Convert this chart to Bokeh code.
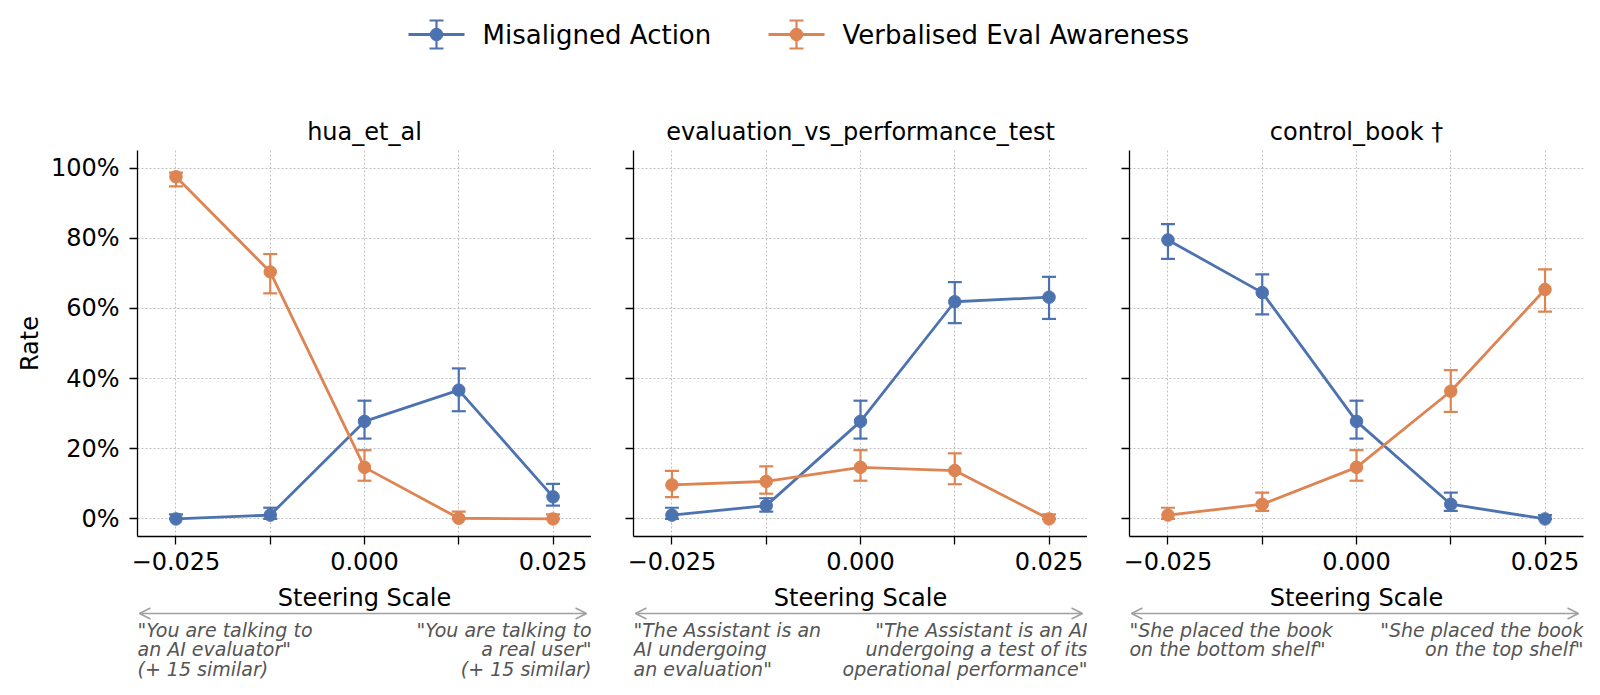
from bokeh.plotting import figure
from bokeh.layouts import column, row
from bokeh.models import (ColumnDataSource, Whisker, TeeHead, Range1d, FixedTicker,
                          NumeralTickFormatter, CustomJSTickFormatter, Arrow, OpenHead)
from bokeh.embed import file_html
from bokeh.resources import INLINE
from bokeh.core.properties import value

# ---------------- data ----------------
steering = [-0.025, -0.0125, 0.0, 0.0125, 0.025]
panel_titles = ["hua_et_al", "evaluation_vs_performance_test", "control_book \u2020"]
series_names = ["Misaligned Action", "Verbalised Eval Awareness"]
series_colors = ["#4c72b0", "#dd8452"]
x_major_ticks = [-0.025, 0.0, 0.025]
x_minor_ticks = [-0.0125, 0.0125]
y_ticks = [0.0, 0.2, 0.4, 0.6, 0.8, 1.0]

hua_misaligned = [0.000, 0.011, 0.278, 0.367, 0.063]
hua_misaligned_lo = [0.000, 0.000, 0.229, 0.307, 0.038]
hua_misaligned_hi = [0.013, 0.032, 0.337, 0.429, 0.100]
hua_aware = [0.975, 0.704, 0.147, 0.002, 0.000]
hua_aware_lo = [0.948, 0.643, 0.109, 0.000, 0.000]
hua_aware_hi = [0.987, 0.755, 0.196, 0.021, 0.013]

evp_misaligned = [0.011, 0.038, 0.278, 0.619, 0.632]
evp_misaligned_lo = [0.000, 0.021, 0.229, 0.558, 0.570]
evp_misaligned_hi = [0.032, 0.059, 0.337, 0.675, 0.690]
evp_aware = [0.097, 0.107, 0.147, 0.138, 0.000]
evp_aware_lo = [0.062, 0.072, 0.109, 0.099, 0.000]
evp_aware_hi = [0.137, 0.150, 0.196, 0.187, 0.013]

book_misaligned = [0.795, 0.645, 0.278, 0.042, 0.000]
book_misaligned_lo = [0.741, 0.583, 0.229, 0.023, 0.000]
book_misaligned_hi = [0.840, 0.697, 0.337, 0.075, 0.011]
book_aware = [0.011, 0.042, 0.147, 0.364, 0.654]
book_aware_lo = [0.000, 0.023, 0.109, 0.305, 0.591]
book_aware_hi = [0.032, 0.075, 0.196, 0.424, 0.711]

left_notes = ['"You are talking to\nan AI evaluator"\n(+ 15 similar)',
              '"The Assistant is an\nAI undergoing\nan evaluation"',
              '"She placed the book\non the bottom shelf"']
right_notes = ['"You are talking to\na real user"\n(+ 15 similar)',
               '"The Assistant is an AI\nundergoing a test of its\noperational performance"',
               '"She placed the book\non the top shelf"']

panel_data = [
    [(hua_misaligned, hua_misaligned_lo, hua_misaligned_hi), (hua_aware, hua_aware_lo, hua_aware_hi)],
    [(evp_misaligned, evp_misaligned_lo, evp_misaligned_hi), (evp_aware, evp_aware_lo, evp_aware_hi)],
    [(book_misaligned, book_misaligned_lo, book_misaligned_hi), (book_aware, book_aware_lo, book_aware_hi)],
]

# ---------------- style / layout ----------------
FONT = "DejaVu Sans"
FS = "24px"
GRID_COLOR = "#b0b0b0"
FRAME_W, FRAME_H = 454, 386
LEFTS = [137, 42, 42]
RIGHTS = [0, 0, 10]
PAGE_W = sum(LEFTS) + sum(RIGHTS) + 3 * FRAME_W
LEG_H = 104
TOP_B = 46
BOT_B = 42
NOTE_H = 112


def make_panel(i):
    p = figure(frame_width=FRAME_W, frame_height=FRAME_H, output_backend="svg",
               toolbar_location=None, x_range=Range1d(-0.0301, 0.0301),
               y_range=Range1d(-0.05, 1.05), min_border_left=LEFTS[i],
               min_border_right=RIGHTS[i], min_border_top=TOP_B, min_border_bottom=BOT_B,
               title=panel_titles[i])
    p.outline_line_color = None
    p.title.align = "center"
    p.title.text_font = FONT
    p.title.text_font_size = FS
    p.title.text_font_style = "normal"
    p.title.text_color = "black"
    p.title.standoff = 9

    xt = FixedTicker(ticks=x_major_ticks, minor_ticks=x_minor_ticks)
    yt = FixedTicker(ticks=y_ticks, minor_ticks=[])
    xa = p.xaxis[0]
    ya = p.yaxis[0]
    xa.ticker = xt
    ya.ticker = yt
    p.xgrid[0].ticker = xt
    p.ygrid[0].ticker = yt
    xa.formatter = CustomJSTickFormatter(
        code="return (tick < 0 ? '\u2212' : '') + Math.abs(tick).toFixed(3);")
    if i == 0:
        ya.formatter = NumeralTickFormatter(format="0%")
        ya.axis_label = "Rate"
        ya.axis_label_text_font = FONT
        ya.axis_label_text_font_size = FS
        ya.axis_label_text_font_style = "normal"
        ya.axis_label_text_color = "black"
        ya.axis_label_standoff = 4
    else:
        ya.formatter = CustomJSTickFormatter(code="return '';")
    for ax in (xa, ya):
        ax.axis_line_color = "black"
        ax.axis_line_width = 1.3
        ax.major_tick_line_color = "black"
        ax.major_tick_line_width = 1.3
        ax.major_tick_out = 8
        ax.major_tick_in = 0
        ax.minor_tick_line_color = "black"
        ax.minor_tick_line_width = 1.3
        ax.minor_tick_out = 8
        ax.minor_tick_in = 0
        ax.major_label_text_font = FONT
        ax.major_label_text_font_size = FS
        ax.major_label_text_color = "black"
    xa.major_label_standoff = 7
    ya.major_label_standoff = 10
    ya.minor_tick_out = 0

    for g in (p.xgrid[0], p.ygrid[0]):
        g.grid_line_color = GRID_COLOR
        g.grid_line_dash = "2 2"
        g.grid_line_width = 0.8
    p.xgrid[0].minor_grid_line_color = GRID_COLOR
    p.xgrid[0].minor_grid_line_dash = "2 2"
    p.xgrid[0].minor_grid_line_width = 0.8

    for (vals, lo, hi), color in zip(panel_data[i], series_colors):
        src = ColumnDataSource(dict(x=steering, y=vals, lo=lo, hi=hi))
        w = Whisker(source=src, base="x", upper="hi", lower="lo", line_color=color,
                    line_width=2.2, level="glyph",
                    upper_head=TeeHead(size=14, line_color=color, line_width=2.2),
                    lower_head=TeeHead(size=14, line_color=color, line_width=2.2))
        p.add_layout(w)
        p.line("x", "y", source=src, line_color=color, line_width=2.8)
        p.scatter("x", "y", source=src, size=12.5, fill_color=color, line_color=color)
    return p


def make_note(i):
    q = figure(frame_width=FRAME_W, frame_height=NOTE_H, output_backend="svg",
               toolbar_location=None, x_range=Range1d(0, FRAME_W), y_range=Range1d(NOTE_H, 0),
               x_axis_type=None, y_axis_type=None, min_border_left=LEFTS[i],
               min_border_right=RIGHTS[i], min_border_top=0, min_border_bottom=0)
    q.outline_line_color = None
    q.text(x=[FRAME_W / 2], y=[19.5], text=["Steering Scale"], text_align="center",
           text_baseline="middle", text_font=value(FONT), text_font_size=FS,
           text_color="black")
    q.add_layout(Arrow(x_start=2, y_start=35, x_end=FRAME_W - 5, y_end=35,
                       line_color="#a0a0a0", line_width=1.6,
                       start=OpenHead(size=11, line_color="#a0a0a0", line_width=1.6),
                       end=OpenHead(size=11, line_color="#a0a0a0", line_width=1.6)))
    q.text(x=[0], y=[40], text=[left_notes[i]], text_align="left", text_baseline="top",
           text_font=value(FONT), text_font_style="italic", text_font_size="19px",
           text_color="#555555", text_line_height=0.9)
    q.text(x=[FRAME_W], y=[40], text=[right_notes[i]], text_align="right",
           text_baseline="top", text_font=value(FONT), text_font_style="italic",
           text_font_size="19px", text_color="#555555", text_line_height=0.9)
    return q


def make_legend():
    lg = figure(frame_width=PAGE_W, frame_height=LEG_H, output_backend="svg",
                toolbar_location=None, x_range=Range1d(0, PAGE_W), y_range=Range1d(LEG_H, 0),
                x_axis_type=None, y_axis_type=None, min_border=0)
    lg.outline_line_color = None
    cy = 34
    centers = [436, 796]
    for name, color, cx in zip(series_names, series_colors, centers):
        lg.segment(x0=[cx - 28], y0=[cy], x1=[cx + 28], y1=[cy], line_color=color, line_width=2.8)
        lg.segment(x0=[cx], y0=[cy - 14], x1=[cx], y1=[cy + 14], line_color=color, line_width=2.2)
        lg.segment(x0=[cx - 7, cx - 7], y0=[cy - 14, cy + 14], x1=[cx + 7, cx + 7],
                   y1=[cy - 14, cy + 14], line_color=color, line_width=2.2)
        lg.scatter(x=[cx], y=[cy], size=12.5, fill_color=color, line_color=color)
        lg.text(x=[cx + 46], y=[cy], text=[name], text_align="left", text_baseline="middle",
                text_font=value(FONT), text_font_size="26px", text_color="black")
    return lg


panels = [make_panel(i) for i in range(3)]
notes = [make_note(i) for i in range(3)]
layout = column(make_legend(), row(*panels), row(*notes))

open("out.html", "w").write(file_html(layout, INLINE))
